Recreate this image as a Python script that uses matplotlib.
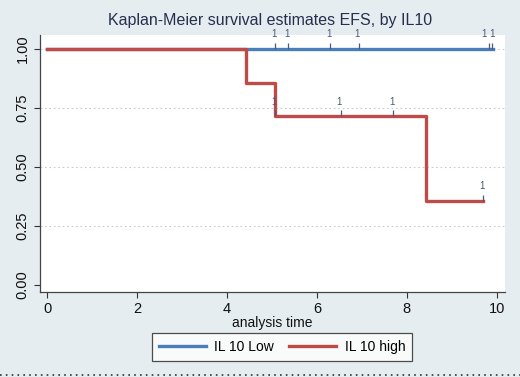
import matplotlib
matplotlib.use("Agg")
import matplotlib.pyplot as plt
from matplotlib.lines import Line2D
from matplotlib.path import Path

plt.rcParams['font.family'] = ['Liberation Sans', 'DejaVu Sans']

# step curves (time where survival changes, survival after that time)
low_times = [0, 9.91]
low_surv = [1.0, 1.0]
low_censored = [5.07, 5.36, 6.29, 6.93, 9.82, 9.89]

high_times = [0, 4.42, 5.07, 8.42, 9.69]
high_surv = [1.0, 0.857, 0.714, 0.357, 0.357]
high_censored = [5.07, 6.53, 7.69, 9.69]

labels = ["IL 10 Low", "IL 10 high"]
blue = '#4a7ebb'
red = '#be4b48'
bg = '#e6edf0'
mark_col = '#4a5a78'


def surv_at(t, times, surv):
    s = surv[0]
    for tt, ss in zip(times, surv):
        if tt <= t:
            s = ss
    return s


fig = plt.figure(figsize=(5.2, 3.77), dpi=100, facecolor=bg)
ax = fig.add_axes([40/520, 1-292/377, 465/520, 257/377])
ax.set_facecolor('white')

for yv in [0.25, 0.5, 0.75, 1.0]:
    ax.axhline(yv, color='#c8cccc', lw=0.8, ls=(0, (1.5, 2.5)), zorder=1)

ax.step(low_times, low_surv, where='post', color=blue, lw=2.4, zorder=3)
ax.step(high_times, high_surv, where='post', color=red, lw=2.4, zorder=4)

tick_up = Path([(0, 0), (0, 1)])
for cens, times, surv in [(low_censored, low_times, low_surv),
                          (high_censored, high_times, high_surv)]:
    ys = [surv_at(t, times, surv) for t in cens]
    ax.plot(cens, ys, ls='none', marker=tick_up, markersize=9,
            markeredgewidth=0.9, color=mark_col, zorder=5)
    # censor counts; marks closer than 0.15 share one label
    groups = []
    for t, y in zip(cens, ys):
        if groups and t - groups[-1][0][-1] < 0.15 and y == groups[-1][1]:
            groups[-1][0].append(t)
        else:
            groups.append(([t], y))
    for ts, y in groups:
        ax.annotate(' '.join('1' * len(ts)), xy=(sum(ts) / len(ts), y),
                    xytext=(-1, 7), textcoords='offset points', ha='center',
                    va='bottom', fontsize=7, color=mark_col, zorder=5)

ax.set_xlim(-0.156, 10.18)
ax.set_ylim(-0.0297, 1.059)
ax.set_xticks([0, 2, 4, 6, 8, 10])
ax.set_yticks([0, 0.25, 0.5, 0.75, 1.0])
ax.set_yticklabels(['0.00', '0.25', '0.50', '0.75', '1.00'], rotation=90,
                   va='center')
ax.tick_params(direction='out', length=4, width=0.8, colors='#333333',
               labelsize=10.5, labelcolor='#111111')
for side in ['top', 'right']:
    ax.spines[side].set_visible(False)
for side in ['left', 'bottom']:
    ax.spines[side].set_color('#444444')
    ax.spines[side].set_linewidth(0.9)

ax.set_xlabel('analysis time', fontsize=10, color='#111111', labelpad=0)
fig.text(270/520, 1-21/377, 'Kaplan-Meier survival estimates EFS, by IL10',
         ha='center', va='center', fontsize=11.5, color='#25304e')

handles = [Line2D([], [], color=blue, lw=2.4), Line2D([], [], color=red, lw=2.4)]
leg = fig.legend(handles, labels, loc='center', ncol=2,
                 bbox_to_anchor=(282/520, 1-347/377), fontsize=10,
                 frameon=True, fancybox=False, handlelength=3.4,
                 handletextpad=0.6, columnspacing=1.1, borderpad=0.5)
leg.get_frame().set_edgecolor('#222222')
leg.get_frame().set_linewidth(0.9)
leg.get_frame().set_facecolor('white')

fig.add_artist(Line2D([0, 1], [1-375/377, 1-375/377], color='#333333',
                      lw=1.2, ls=(0, (1, 2.5)), transform=fig.transFigure))

fig.savefig('out.png', dpi=100, facecolor=bg)
